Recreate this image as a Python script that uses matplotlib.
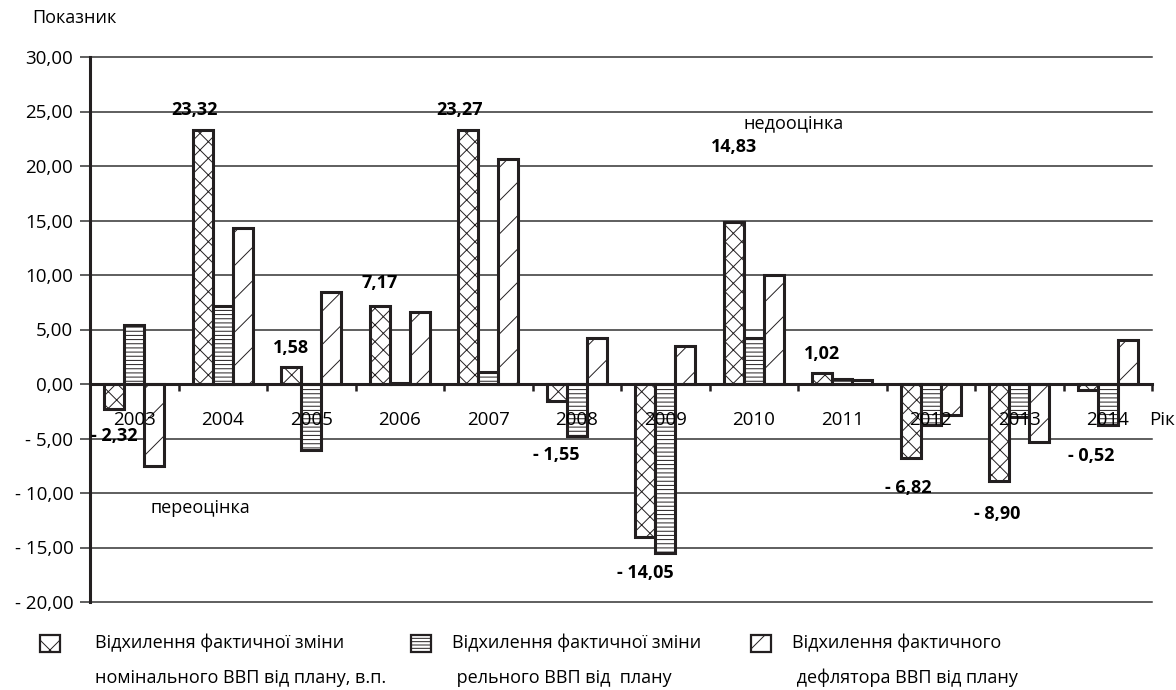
import matplotlib
matplotlib.use("Agg")
import matplotlib.pyplot as plt
from matplotlib.patches import Rectangle
from matplotlib.ticker import FuncFormatter
import numpy as np

plt.rcParams["font.family"] = ["Open Sans", "DejaVu Sans"]
plt.rcParams["font.size"] = 13
plt.rcParams["hatch.linewidth"] = 0.7

# --- data -----------------------------------------------------------------
years = ["2003", "2004", "2005", "2006", "2007", "2008",
         "2009", "2010", "2011", "2012", "2013", "2014"]
nominal = [-2.32, 23.32, 1.58, 7.17, 23.27, -1.55,
           -14.05, 14.83, 1.02, -6.82, -8.90, -0.52]
real = [5.4, 7.2, -6.1, 0.1, 1.1, -4.8,
        -15.5, 4.2, 0.5, -3.8, -3.0, -3.8]
deflator = [-7.5, 14.3, 8.4, 6.6, 20.6, 4.2,
            3.5, 10.0, 0.4, -2.8, -5.3, 4.0]

legend_labels = [
    "Відхилення фактичної зміни\nномінального ВВП від плану, в.п.",
    "Відхилення фактичної зміни\n рельного ВВП від  плану",
    "Відхилення фактичного\n дефлятора ВВП від плану",
]

# label offsets (pixels) for the nominal-series value labels
label_dx = [0, -8, 0, 0, -9, 0, 0, 0, 0, -2, -2, 4]
label_dy = [-27, 20, 19, 23, 20, -54, -36, 75, 19, -30, -33, -66]


def fmt(v):
    s = f"{abs(v):.2f}".replace(".", ",")
    return f"- {s}" if v < 0 else s


# --- figure ---------------------------------------------------------------
W, H = 1176, 690
fig = plt.figure(figsize=(W / 100, H / 100), dpi=100)
ax = fig.add_axes([90 / W, 1 - 602 / H, (1152 - 90) / W, (602 - 57) / H])

x = np.arange(len(years))
w = 0.226
styles = [
    dict(hatch="xx"),
    dict(hatch="----"),
    dict(hatch="/"),
]
series = [nominal, real, deflator]
for k, (vals, st) in enumerate(zip(series, styles)):
    ax.bar(x + (k - 1) * w, vals, width=w, facecolor="white",
           edgecolor="#231f20", linewidth=2.2, zorder=3, **st)

ax.set_xlim(-0.5, len(years) - 0.5)
ax.set_ylim(-20, 30)
ax.set_yticks(np.arange(-20, 31, 5))
ax.yaxis.set_major_formatter(FuncFormatter(lambda v, p: fmt(v)))
ax.yaxis.grid(True, color="#333333", linewidth=1.1)
ax.set_axisbelow(True)
ax.tick_params(axis="y", length=7, width=1.1, color="#333333", pad=5,
               labelsize=13.5)

ax.spines["top"].set_visible(False)
ax.spines["right"].set_visible(False)
ax.spines["left"].set_linewidth(2.2)
ax.spines["left"].set_color("#231f20")
ax.spines["bottom"].set_position(("data", 0))
ax.spines["bottom"].set_linewidth(2.2)
ax.spines["bottom"].set_color("#231f20")
ax.spines["bottom"].set_zorder(4)
ax.set_xticks(np.arange(-0.5, len(years), 1.0))
ax.set_xticklabels([])
ax.tick_params(axis="x", length=5, width=1.8, color="#231f20",
               direction="out")

for i, yr in enumerate(years):
    ax.text(i, -3.3, yr, ha="center", va="center", fontsize=13.5, zorder=5)
fig.text(1175 / W, 1 - 420 / H, "Рік", ha="right", va="center",
         fontsize=13.5)

for i, v in enumerate(nominal):
    ax.annotate(fmt(v), xy=(i - w, v), xytext=(label_dx[i], label_dy[i]),
                textcoords="offset pixels", ha="center", va="center",
                fontweight="bold", fontsize=13, zorder=6)

ax.text(6.88, 23.9, "недооцінка", ha="left", va="center", fontsize=13)
ax.text(0.18, -11.4, "переоцінка", ha="left", va="center", fontsize=13)

fig.text(32 / W, 1 - 18 / H, "Показник", ha="left", va="center",
         fontsize=13)

# --- legend ---------------------------------------------------------------
handle_x = [40, 411, 751]
text_x = [95, 452, 792]
for hx, tx, st, lab in zip(handle_x, text_x, styles, legend_labels):
    hatch = {"xx": "x", "----": "-----", "/": "/"}[st["hatch"]]
    fig.add_artist(Rectangle((hx / W, 1 - 652 / H), 20 / W, 17 / H,
                             transform=fig.transFigure, facecolor="white",
                             edgecolor="#231f20", linewidth=1.6,
                             hatch=hatch))
    first, second = lab.split("\n")
    fig.text(tx / W, 1 - 643 / H, first, ha="left", va="center",
             fontsize=13)
    fig.text(tx / W, 1 - 678 / H, second, ha="left", va="center",
             fontsize=13)

fig.canvas.draw()
for gl in ax.get_ygridlines():
    gl.set_clip_on(False)

fig.savefig("out.png", dpi=100)
